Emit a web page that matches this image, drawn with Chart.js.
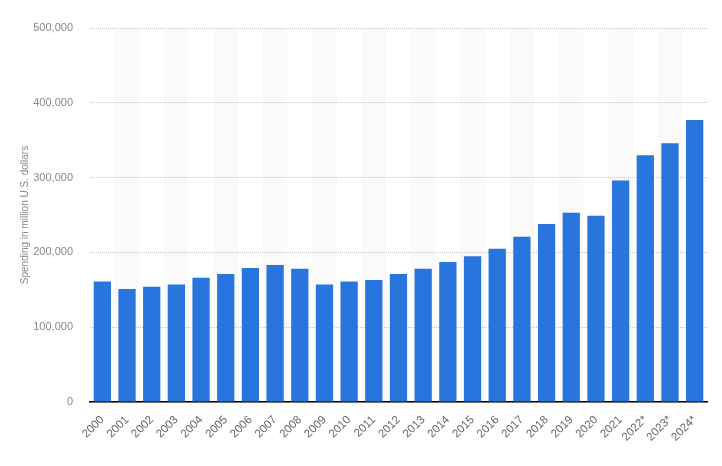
<!DOCTYPE html>
<html>
<head>
<meta charset="utf-8">
<script src="https://cdn.jsdelivr.net/npm/chart.js@4.4.1/dist/chart.umd.min.js"></script>
<style>
html,body{margin:0;padding:0;background:#fff;}
#wrap{width:722px;height:466px;position:relative;}
</style>
</head>
<body>
<div id="wrap"><canvas id="c" width="722" height="466"></canvas></div>
<script>
const years = ["2000","2001","2002","2003","2004","2005","2006","2007","2008","2009","2010","2011","2012","2013","2014","2015","2016","2017","2018","2019","2020","2021","2022*","2023*","2024*"];
const spending = [161000,151000,154000,157000,166000,171000,179000,183000,178000,157000,161000,163000,171000,178000,187000,195000,205000,221000,238000,253000,249000,296000,330000,346000,377000];
const yTicks = [0,100000,200000,300000,400000,500000];
const yTitle = "Spending in million U.S. dollars";

const stripes = {
  id: 'stripes',
  beforeDraw(chart) {
    const {ctx, chartArea, scales} = chart;
    const x = scales.x;
    const half = (x.getPixelForValue(1) - x.getPixelForValue(0)) / 2;
    ctx.save();
    ctx.fillStyle = '#fafafa';
    for (let i = 1; i < years.length; i += 2) {
      const c = x.getPixelForValue(i);
      ctx.fillRect(c - half, chartArea.top, half * 2, chartArea.bottom - chartArea.top);
    }
    ctx.restore();
  }
};

new Chart(document.getElementById('c'), {
  type: 'bar',
  data: {
    labels: years,
    datasets: [{
      data: spending,
      backgroundColor: '#2876dd',
      categoryPercentage: 0.7,
      barPercentage: 1.0
    }]
  },
  options: {
    responsive: false,
    animation: false,
    devicePixelRatio: 1,
    layout: { padding: { top: 28, right: 15, left: 19, bottom: 0 } },
    plugins: { legend: { display: false }, tooltip: { enabled: false } },
    scales: {
      x: {
        z: 1,
        grid: { display: false, drawTicks: false },
        border: { display: true, color: '#000', width: 1.5 },
        ticks: {
          color: '#666',
          font: { family: 'Arial, "Liberation Sans", sans-serif', size: 11.5 },
          maxRotation: 45, minRotation: 45,
          padding: 11,
          autoSkip: false
        },
        afterFit(s) { s.height = 64; }
      },
      y: {
        min: 0, max: 500000,
        afterBuildTicks(s) { s.ticks = yTicks.map(v => ({value: v})); },
        grid: {
          color: '#c4c4c4',
          lineWidth: 1,
          drawTicks: false
        },
        border: { display: false, dash: [1, 1] },
        ticks: {
          color: '#888',
          padding: 17,
          font: { family: 'Arial, "Liberation Sans", sans-serif', size: 11 },
          callback: v => v.toLocaleString('en-US')
        },
        title: {
          display: true,
          text: yTitle,
          color: '#888',
          font: { family: 'Arial, "Liberation Sans", sans-serif', size: 10 },
          padding: { top: 0, bottom: 0 }
        },
        afterFit(s) { s.width = 71; }
      }
    }
  },
  plugins: [stripes]
});
</script>
</body>
</html>
